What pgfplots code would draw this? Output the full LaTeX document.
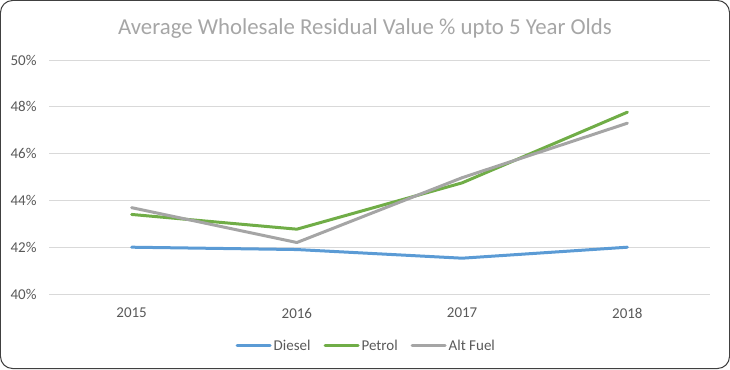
\documentclass[border=0pt]{standalone}
\usepackage{pgfplots}
\pgfplotsset{compat=1.18}
\usepackage{fontspec}
\setmainfont{Carlito}
\definecolor{diesel}{HTML}{5B9BD5}
\definecolor{petrol}{HTML}{70AD47}
\definecolor{altfuel}{HTML}{A5A5A5}
\definecolor{gridc}{HTML}{D9D9D9}
\definecolor{tickc}{HTML}{595959}
\definecolor{titlec}{HTML}{A6A6A6}
\begin{document}
\begin{tikzpicture}[x=1bp,y=1bp]
\draw[line width=1bp, color=black!75, rounded corners=12bp] (0.5,0.5) rectangle (729.5,368.5);
\node[text=titlec, font=\fontsize{22.8bp}{27bp}\selectfont] at (365,340) {Average Wholesale Residual Value \% upto 5 Year Olds};
\begin{axis}[
  at={(49bp,75bp)}, anchor=south west,
  scale only axis, width=661bp, height=234bp,
  xmin=2014.5, xmax=2018.5, ymin=40, ymax=50,
  xtick={2015,2016,2017,2018},
  xticklabels={2015,2016,2017,2018},
  ytick={40,42,44,46,48,50},
  yticklabel={\pgfmathprintnumber{\tick}\%},
  /pgf/number format/assume math mode=true,
  ymajorgrids, grid style={gridc, line width=0.75bp},
  axis line style={draw=none},
  major tick length=0pt,
  tick label style={text=tickc, font=\fontsize{15bp}{18bp}\selectfont},
  yticklabel style={xshift=-9bp},
  xticklabel style={anchor=center, yshift=-19bp},
  legend columns=3,
  legend style={at={(axis description cs:0.48,-0.222)}, anchor=center, draw=none, fill=none,
    font=\fontsize{15bp}{18bp}\selectfont, text=tickc,
    /tikz/every even column/.append style={column sep=11bp}},
  legend image code/.code={\draw[#1, line cap=round] (0bp,0bp) -- (33bp,0bp);},
  every axis plot/.append style={line width=3bp, line join=round, line cap=round},
]
\addplot[diesel] coordinates {(2015,42.0) (2016,41.9) (2017,41.53) (2018,42.0)};
\addplot[petrol] coordinates {(2015,43.4) (2016,42.77) (2017,44.75) (2018,47.77)};
\addplot[altfuel] coordinates {(2015,43.69) (2016,42.2) (2017,44.97) (2018,47.3)};
\legend{Diesel,Petrol,Alt Fuel}
\end{axis}
\end{tikzpicture}
\end{document}
